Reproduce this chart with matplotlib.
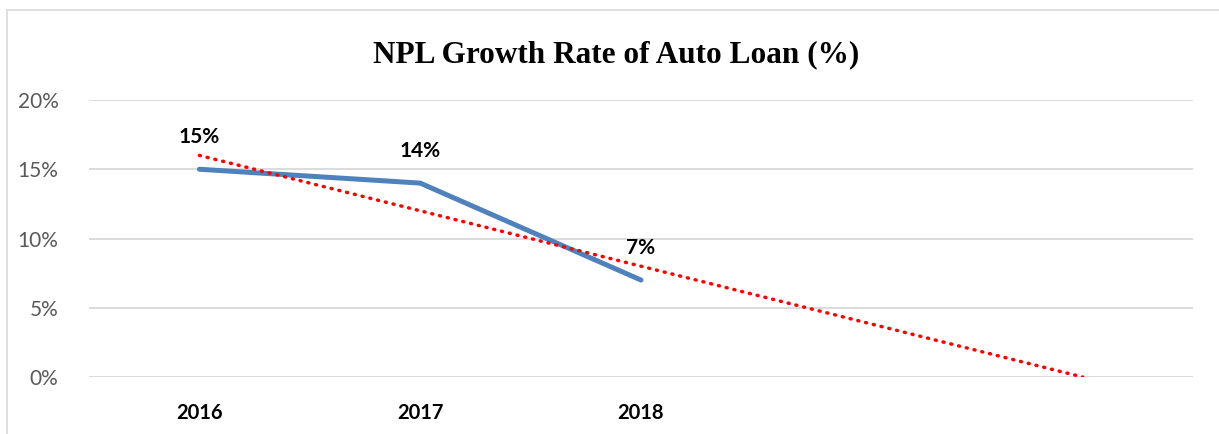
import matplotlib
matplotlib.use("Agg")
import matplotlib.pyplot as plt
import numpy as np
from matplotlib.patches import Rectangle

years = ["2016", "2017", "2018"]
npl_growth = [15, 14, 7]
forecast_periods = 2
y_ticks = [0, 5, 10, 15, 20]

if __name__ == "__main__":
    fig = plt.figure(figsize=(12.19, 4.34), dpi=100)
    ax = fig.add_axes([89 / 1219, 57 / 434, (1193 - 89) / 1219, (377 - 100) / 434])

    # chart border
    fig.patches.append(Rectangle((7 / 1219, -0.1), 1.2, (424 / 434) + 0.1,
                                 transform=fig.transFigure, fill=False,
                                 edgecolor="#d9d9d9", linewidth=1.2))

    x = np.arange(len(years))
    ax.plot(x, npl_growth, color="#4f81bd", linewidth=3.6, solid_capstyle="round", zorder=3)

    # linear trendline with forward forecast
    slope, intercept = np.polyfit(x, npl_growth, 1)
    xt = np.array([0, len(years) - 1 + forecast_periods])
    ax.plot(xt, slope * xt + intercept, color="red", linewidth=2.5,
            linestyle=(0, (0.3, 2.0)), dash_capstyle="round", zorder=4)

    for xi, yi in zip(x, npl_growth):
        ax.annotate(f"{yi}%", (xi, yi), xytext=(0, 23), textcoords="offset points",
                    ha="center", va="center", fontsize=15, fontweight="bold",
                    family="Lato", color="black")

    ax.set_xlim(-0.5, len(years) - 1 + forecast_periods + 0.5)
    ax.set_ylim(0, 20)
    ax.set_yticks(y_ticks)
    ax.set_yticklabels([f"{t}%" for t in y_ticks], fontsize=15, family="Lato", color="#595959")
    ax.set_xticks(x)
    ax.set_xticklabels(years, fontsize=14.5, fontweight="bold", family="Lato", color="black")
    ax.tick_params(axis="both", length=0)
    ax.tick_params(axis="y", pad=22)
    ax.tick_params(axis="x", pad=19)
    ax.grid(axis="y", color="#d9d9d9", linewidth=1.3)
    ax.set_axisbelow(True)
    for s in ax.spines.values():
        s.set_visible(False)

    fig.text(616 / 1219, 1 - 55 / 434, "NPL Growth Rate of Auto Loan (%)",
             ha="center", va="center", fontsize=22.5, fontweight="bold",
             family="Liberation Serif")

    fig.savefig("out.png", dpi=100)
